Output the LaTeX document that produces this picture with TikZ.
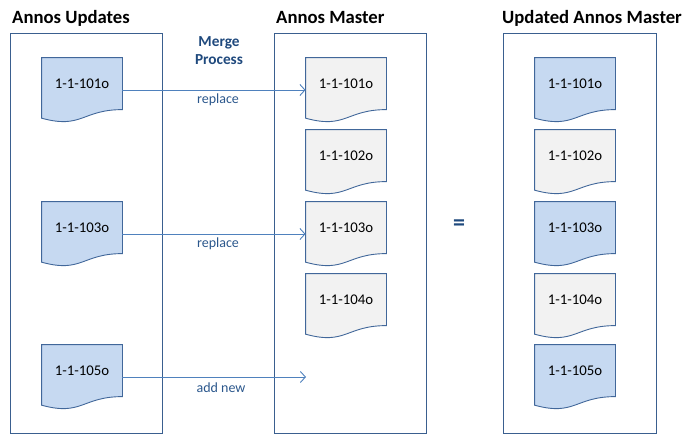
\documentclass[tikz,border=0pt]{standalone}
\usepackage{fontspec}
\setmainfont{Carlito}
\usetikzlibrary{arrows.meta}
\definecolor{boxline}{HTML}{3A5F8F}
\definecolor{docline}{HTML}{41679A}
\definecolor{docblue}{HTML}{C6D9F1}
\definecolor{docgrey}{HTML}{F2F2F2}
\definecolor{arrowcol}{HTML}{4F81BD}
\definecolor{labelcol}{HTML}{2B578C}
\definecolor{darkblue}{HTML}{1F497D}
\makeatletter
\pgfdeclareshape{docpage}{%
  \inheritsavedanchors[from=rectangle]%
  \inheritanchorborder[from=rectangle]%
  \inheritanchor[from=rectangle]{center}%
  \inheritanchor[from=rectangle]{north}%
  \inheritanchor[from=rectangle]{south}%
  \inheritanchor[from=rectangle]{east}%
  \inheritanchor[from=rectangle]{west}%
  \inheritanchor[from=rectangle]{north east}%
  \inheritanchor[from=rectangle]{north west}%
  \inheritanchor[from=rectangle]{south east}%
  \inheritanchor[from=rectangle]{south west}%
  \inheritanchor[from=rectangle]{base}%
  \inheritanchor[from=rectangle]{mid}%
  \backgroundpath{%
    \southwest \pgf@xa=\pgf@x \pgf@ya=\pgf@y
    \northeast \pgf@xb=\pgf@x \pgf@yb=\pgf@y
    \pgf@xc=.5\pgf@xa \advance\pgf@xc by .5\pgf@xb
    \pgf@yc=\pgf@yb \advance\pgf@yc by -\pgf@ya
    \dimen@=\pgf@yb \advance\dimen@ by -.802\pgf@yc
    \edef\dpRy{\the\dimen@}%
    \dimen@=\pgf@yb \advance\dimen@ by -1.107\pgf@yc
    \edef\dpCy{\the\dimen@}%
    \dimen@=\pgf@yb \advance\dimen@ by -.934\pgf@yc
    \edef\dpLy{\the\dimen@}%
    \edef\dpXa{\the\pgf@xa}\edef\dpXb{\the\pgf@xb}\edef\dpXc{\the\pgf@xc}\edef\dpYb{\the\pgf@yb}%
    \pgfpathmoveto{\pgfqpoint{\dpXa}{\dpYb}}%
    \pgfpathlineto{\pgfqpoint{\dpXb}{\dpYb}}%
    \pgfpathlineto{\pgfqpoint{\dpXb}{\dpRy}}%
    \pgfpathcurveto{\pgfqpoint{\dpXc}{\dpRy}}{\pgfqpoint{\dpXc}{\dpCy}}{\pgfqpoint{\dpXa}{\dpLy}}%
    \pgfpathclose
  }%
}
\makeatother
\tikzset{
  docbase/.style={shape=docpage, draw=docline, line width=0.9pt, minimum width=80pt, minimum height=64pt,
    inner sep=0pt, text height=9pt, text depth=12pt, font=\fontsize{14.8}{17}\selectfont},
  upd/.style={docbase, fill=docblue},
  old/.style={docbase, fill=docgrey},
  frame/.style={draw=boxline, line width=1pt},
  title/.style={anchor=base west, inner sep=0pt, font=\fontsize{18.7}{22}\selectfont\bfseries},
  flow/.style={draw=arrowcol, line width=0.9pt, -{Straight Barb[length=5pt,width=11pt,line width=0.9pt]}},
  flowlabel/.style={text=labelcol, inner sep=0pt, font=\fontsize{14}{16}\selectfont}
}
\begin{document}
\begin{tikzpicture}[x=1pt,y=-1pt]
\useasboundingbox (0,0) rectangle (695,436);
% frames
\draw[frame] (10,34) rectangle (162,433);
\draw[frame] (274,34) rectangle (426,433);
\draw[frame] (503,34) rectangle (656,433);
% titles
\node[title] (t1) at (12,24) {Annos Updates};
\node[title] (t2) at (276,24) {Annos Master};
\node[title] (t3) at (502,24) {Updated Annos Master};
\node[anchor=north, align=center, inner sep=0pt, text=darkblue, font=\fontsize{15.3}{17.5}\selectfont\bfseries] (mp) at (219,36.5) {Merge\\Process};
% updates
\node[upd] (u1) at (82,90) {1-1-101o};
\node[upd] (u3) at (82,234) {1-1-103o};
\node[upd] (u5) at (82,377) {1-1-105o};
% master
\node[old] (m1) at (346,90) {1-1-101o};
\node[old] (m2) at (346,162) {1-1-102o};
\node[old] (m3) at (346,234) {1-1-103o};
\node[old] (m4) at (346,306) {1-1-104o};
% updated master
\node[upd] (r1) at (575,90) {1-1-101o};
\node[old] (r2) at (575,162) {1-1-102o};
\node[upd] (r3) at (575,234) {1-1-103o};
\node[old] (r4) at (575,306) {1-1-104o};
\node[upd] (r5) at (575,377) {1-1-105o};
% arrows
\coordinate (newend) at (306,377);
\draw[flow] (u1) -- (m1);
\draw[flow] (u3) -- (m3);
\draw[flow] (u5) -- (newend);
\node[flowlabel] (l1) at (218,100) {replace};
\node[flowlabel] (l2) at (218,244) {replace};
\node[flowlabel] (l3) at (221,388) {add new};
% equals
\node[text=darkblue, inner sep=0pt, font=\fontsize{24}{26}\selectfont\bfseries] (eq) at (459,225) {=};
\end{tikzpicture}
\end{document}
